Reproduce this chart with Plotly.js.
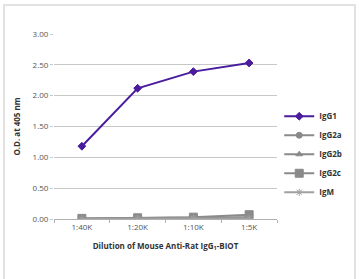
<!DOCTYPE html>
<html>
<head>
<meta charset="utf-8">
<script src="https://cdn.plot.ly/plotly-3.0.1.min.js"></script>
<style>
html,body{margin:0;padding:0;background:#fff;}
#frame{position:absolute;left:3px;top:4px;width:353px;height:280px;border:2px solid #e2e2e2;box-sizing:border-box;}
#chart{position:absolute;left:0;top:0;width:359px;height:279px;}
</style>
</head>
<body>
<div id="frame"></div>
<div id="chart"></div>
<script>
var categories = ["1:40K", "1:20K", "1:10K", "1:5K"];
var seriesNames = ["IgG1", "IgG2a", "IgG2b", "IgG2c", "IgM"];
var igg1 = [1.18, 2.12, 2.39, 2.53];
var igg2a = [0.01, 0.02, 0.02, 0.03];
var igg2b = [0.00, 0.01, 0.01, 0.02];
var igg2c = [0.01, 0.02, 0.03, 0.07];
var igm = [0.00, 0.01, 0.01, 0.01];
var yTicks = [0, 0.5, 1, 1.5, 2, 2.5, 3];

var values = [igg1, igg2a, igg2b, igg2c, igm];
var colors = ["#4a1c9e", "#8a8a8a", "#8a8a8a", "#8a8a8a", "#a0a0a0"];
var symbols = ["diamond", "circle", "triangle-up", "square", "asterisk-open"];
var sizes = [6, 6, 6, 8, 6];

var traces = seriesNames.map(function(n, i){
  return {
    x: categories, y: values[i], name: n, type: "scatter", mode: "lines+markers",
    legendrank: i + 1,
    line: {color: colors[i], width: 2},
    marker: {symbol: symbols[i], size: sizes[i], color: colors[i], line: {color: colors[i], width: 1}}
  };
});
// draw gray series first so IgG1 is on top
traces = traces.slice(1).concat([traces[0]]);

var font = "'Open Sans', 'Liberation Sans', sans-serif";
var layout = {
  width: 359, height: 279,
  margin: {l: 54, r: 66, t: 34, b: 60},
  paper_bgcolor: "rgba(0,0,0,0)", plot_bgcolor: "rgba(0,0,0,0)",
  font: {family: font, size: 8, color: "#444"},
  showlegend: true,
  legend: {
    traceorder: "normal",
    x: 1.01, xanchor: "left", y: 0.35, yanchor: "middle",
    font: {family: font, size: 8, color: "#333", weight: "bold"},
    tracegroupgap: 0, itemwidth: 30,
    bgcolor: "rgba(0,0,0,0)"
  },
  xaxis: {
    type: "category", range: [-0.5, 3.5],
    showgrid: false, showline: true, linecolor: "#b0b0b0", linewidth: 1,
    ticks: "outside", ticklen: 3, tickcolor: "#b0b0b0", tickson: "boundaries",
    tickfont: {family: font, size: 8, color: "#555"},
    title: {text: "Dilution of Mouse Anti-Rat IgG<sub>1</sub>-BIOT", font: {family: font, size: 8, color: "#333", weight: "bold"}, standoff: 12},
    zeroline: false, fixedrange: true
  },
  yaxis: {
    range: [0, 3.0], tickvals: yTicks, tickformat: ".2f",
    showgrid: true, gridcolor: "#c8c8c8", gridwidth: 1,
    showline: false, zeroline: false,
    ticks: "outside", ticklen: 3, tickcolor: "#c8c8c8",
    tickfont: {family: font, size: 8, color: "#555"},
    title: {text: "O.D. at 405 nm", font: {family: font, size: 8, color: "#333", weight: "bold"}, standoff: 10},
    fixedrange: true
  }
};
Plotly.newPlot("chart", traces, layout, {displayModeBar: false, staticPlot: true});
</script>
</body>
</html>
